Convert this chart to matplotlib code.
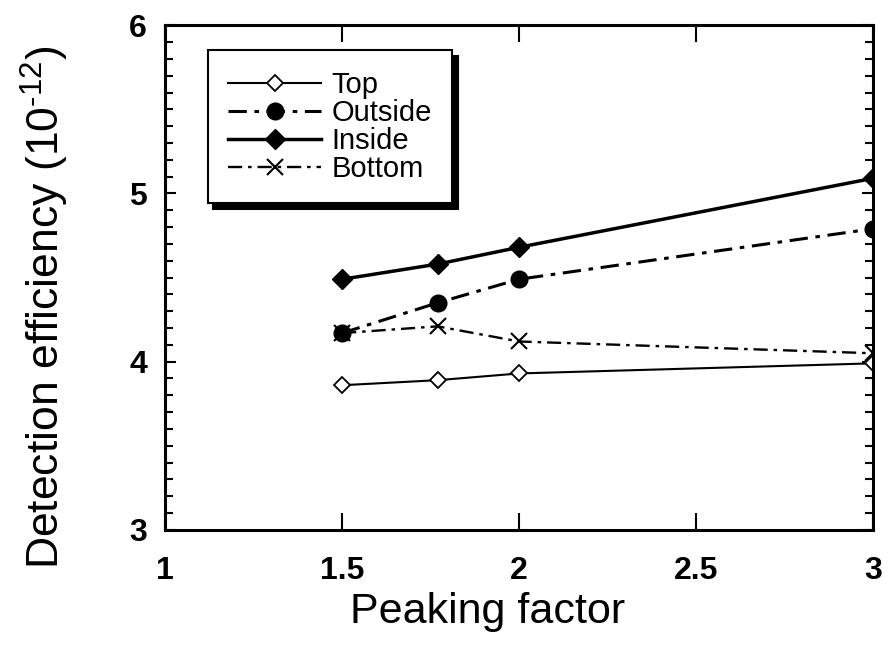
import numpy as np
import matplotlib.pyplot as plt
from matplotlib.ticker import MultipleLocator

plt.rcParams['font.family'] = ['Liberation Sans', 'DejaVu Sans']
plt.rcParams['mathtext.fontset'] = 'custom'
plt.rcParams['mathtext.rm'] = 'Liberation Sans'

peaking = [1.5, 1.77, 2.0, 3.0]
top = [3.86, 3.89, 3.93, 3.99]
outside = [4.17, 4.35, 4.49, 4.79]
inside = [4.49, 4.58, 4.68, 5.09]
bottom = [4.17, 4.21, 4.12, 4.05]

dashdot = (0, (6, 2.5, 1.5, 2.5))

fig = plt.figure(figsize=(8.88, 6.47), dpi=100)
ax = fig.add_axes([0.186, 0.181, 0.797, 0.78])

ax.plot(peaking, top, color='k', lw=1.5, marker='D', ms=8, mfc='white', mec='k', mew=1.3, label='Top')
ax.plot(peaking, outside, color='k', lw=2.2, ls=dashdot, marker='o', ms=12, mfc='k', mec='k', label='Outside')
ax.plot(peaking, inside, color='k', lw=2.5, marker='D', ms=10, mfc='k', mec='k', label='Inside')
ax.plot(peaking, bottom, color='k', lw=1.7, ls=dashdot, marker='x', ms=11, mew=1.5, mec='k', label='Bottom')

ax.set_xlim(1, 3)
ax.set_ylim(3, 6)
ax.yaxis.set_major_locator(MultipleLocator(1))
ax.yaxis.set_minor_locator(MultipleLocator(0.1))
ax.set_xticks([1, 1.5, 2, 2.5, 3])
ax.set_xticklabels(['1', '1.5', '2', '2.5', '3'])

ax.tick_params(which='both', direction='in', top=True, right=True, width=1.5)
ax.tick_params(axis='x', which='major', length=12, pad=19, labelsize=23)
ax.tick_params(axis='y', which='major', length=8, pad=13, labelsize=23)
ax.tick_params(axis='y', which='minor', length=6)
for lab in ax.get_xticklabels() + ax.get_yticklabels():
    lab.set_fontweight('bold')
for s in ax.spines.values():
    s.set_linewidth(2.2)

ax.set_xlabel('Peaking factor', fontsize=31, va='center')
ax.xaxis.set_label_coords(0.455, -0.162)
ax.set_ylabel('Detection efficiency (10$^{\\text{-}12}$)', fontsize=32, va='center')
ax.yaxis.set_label_coords(-0.17, 0.44)

leg = ax.legend(loc='upper left', bbox_to_anchor=(0.06, 0.95), fontsize=21,
                frameon=True, fancybox=False, edgecolor='k', framealpha=1,
                shadow={'ox': 4, 'oy': -4, 'color': 'k', 'alpha': 1},
                handlelength=3.2, handletextpad=0.35,
                labelspacing=0.0, borderpad=0.7, borderaxespad=0)
leg.get_frame().set_linewidth(1.5)

fig.savefig('out.png', dpi=100)
